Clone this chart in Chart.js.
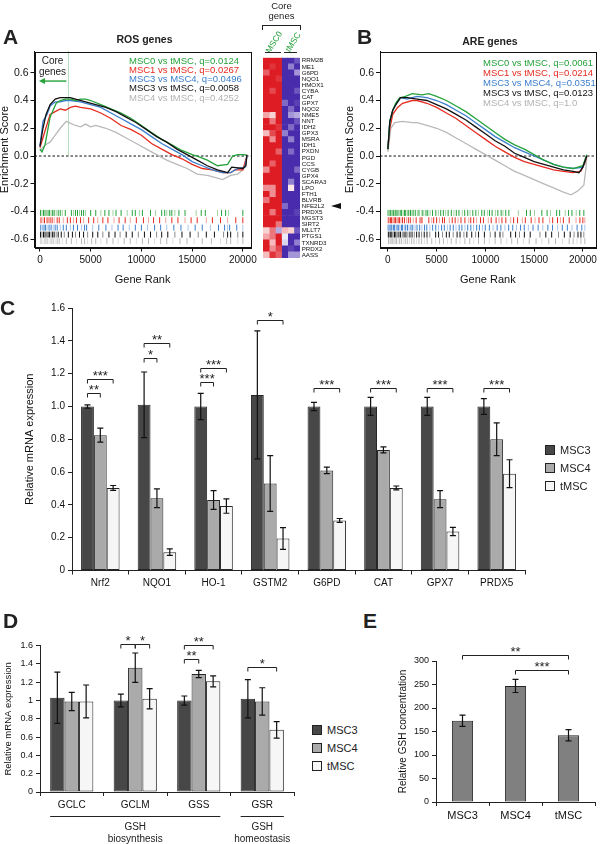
<!DOCTYPE html>
<html>
<head>
<meta charset="utf-8">
<script src="https://cdn.jsdelivr.net/npm/chart.js@4.4.1/dist/chart.umd.min.js"></script>
<style>
html, body { margin: 0; padding: 0; background: #fff; }
#fig { position: relative; width: 600px; height: 844px; overflow: hidden; font-family: 'Liberation Sans', Arial, sans-serif; color: #222; }
#fig canvas { position: absolute; }
.t { position: absolute; white-space: nowrap; line-height: 1; }
.sw { position: absolute; width: 8px; height: 8px; border: 1px solid #222; }
.ln { position: absolute; background: #222; }
</style>
</head>
<body>
<div id="fig">
  <canvas id="chartA" width="260" height="300" style="left:0;top:0"></canvas>
  <canvas id="heat" width="90" height="215" style="left:258px;top:50px"></canvas>
  <canvas id="chartB" width="260" height="300" style="left:340px;top:0"></canvas>
  <canvas id="chartC" width="600" height="300" style="left:0;top:295px"></canvas>
  <canvas id="chartD" width="300" height="214" style="left:0;top:630px"></canvas>
  <canvas id="chartE" width="205" height="204" style="left:395px;top:640px"></canvas>
</div>
<script>
// ---- panel A: ROS genes, running enrichment score [rank, ES]
const rosMSC0 = [[0,0.05],[200,0.03],[500,0.08],[800,0.2],[1000,0.28],[1300,0.33],[1600,0.38],[2000,0.4],[2500,0.41],[3000,0.41],[3500,0.4],[4000,0.41],[4500,0.41],[5000,0.4],[6000,0.37],[7000,0.34],[8000,0.31],[9000,0.27],[10000,0.22],[11000,0.17],[12000,0.12],[13000,0.08],[14000,0.04],[15000,0.01],[15500,0.0],[16500,-0.03],[17500,-0.07],[18500,-0.06],[19000,0.0],[19500,0.01],[20200,0.01],[20400,0.0]];
const rosMSC1 = [[0,0.06],[500,0.18],[1000,0.3],[1500,0.32],[2000,0.34],[2500,0.33],[3000,0.35],[3500,0.36],[4000,0.35],[5000,0.34],[6000,0.31],[7000,0.27],[8000,0.22],[9000,0.19],[10000,0.15],[11000,0.09],[12000,0.05],[13000,0.01],[14000,-0.02],[15000,-0.06],[16000,-0.09],[17000,-0.1],[18000,-0.12],[18800,-0.12],[19200,-0.1],[20000,-0.1],[20400,0.0]];
const rosMSC3v4 = [[0,0.07],[300,0.25],[700,0.3],[1000,0.36],[1500,0.39],[2000,0.39],[2500,0.4],[3000,0.4],[4000,0.39],[5000,0.37],[6000,0.35],[7000,0.31],[8000,0.27],[9000,0.23],[10000,0.19],[11000,0.14],[12000,0.09],[13000,0.05],[14000,0.01],[15000,-0.04],[16000,-0.07],[17000,-0.1],[18000,-0.12],[18800,-0.12],[19500,-0.09],[20200,-0.08],[20400,0.0]];
const rosMSC3vT = [[0,0.07],[300,0.2],[600,0.3],[1000,0.37],[1500,0.41],[2000,0.42],[3000,0.42],[3500,0.41],[4500,0.39],[5500,0.37],[6500,0.35],[7500,0.32],[8500,0.28],[9500,0.24],[10500,0.19],[11500,0.14],[12500,0.1],[13500,0.05],[14500,0.01],[15500,-0.03],[16500,-0.07],[17500,-0.1],[18500,-0.12],[18900,-0.08],[20000,-0.09],[20300,-0.07],[20400,0.01]];
const rosMSC4vT = [[0,0.04],[500,0.08],[1000,0.1],[1500,0.15],[2000,0.2],[2600,0.25],[3500,0.22],[4000,0.21],[4500,0.23],[5000,0.21],[5500,0.22],[6500,0.2],[7500,0.17],[8500,0.13],[9500,0.09],[10500,0.05],[11500,0.01],[12500,-0.03],[13500,-0.06],[14500,-0.09],[15500,-0.13],[16500,-0.14],[17500,-0.16],[18000,-0.17],[18800,-0.14],[19500,-0.13],[20000,-0.1],[20300,-0.07],[20400,0.0]];

// gene-set hits (rank positions) for each comparison
const rosHitsMSC0 = [50,200,350,500,650,800,950,1100,1250,1400,1600,1800,2000,2200,2500,3100,3300,3500,3700,3900,4100,4300,4500,5000,5500,6000,6400,6800,7200,7500,8000,8600,9100,9400,9800,10100,10900,11400,12000,12300,12500,12800,13000,13300,13700,14300,15400,15900,16300,17500,17900,18300,18600,20000];
const rosHitsMSC1 = [100,300,450,700,850,1000,1200,1400,1700,1900,2300,2700,3000,3300,3600,4000,4300,4800,5300,5700,6200,6700,7300,7800,8400,8900,9500,10200,10700,11200,11800,12400,13000,13600,14300,14900,15500,16400,17000,17800,18500,19300,20000];
const rosHitsMSC3v4 = [80,250,400,550,700,900,1100,1300,1500,1700,2000,2300,2600,3000,3300,3700,4100,4400,4600,5200,5800,6500,7100,7700,8200,8800,9400,10000,10600,11300,11900,12500,13200,13900,14600,15300,16000,16800,17600,18200,18500,18700,19400,20000];
const rosHitsMSC3vT = [60,200,350,500,650,800,950,1100,1250,1400,1600,1800,2100,2400,2800,3200,3500,3900,4300,4700,5200,5700,6200,6800,7400,7900,8500,9100,9700,10300,10900,11500,12000,12600,13300,14000,14800,15600,16400,17200,18100,18500,18800,19500,20000];
const rosHitsMSC4vT = [100,300,500,700,900,1100,1300,1500,1700,1900,2200,2600,3100,3600,4100,4400,4700,5100,5500,6000,6600,7200,7700,8300,8900,9500,10100,10700,11300,11900,12500,13100,13800,14500,15200,16000,16900,17800,18400,18800,19500,20000];
const rosLegend = ['MSC0 vs tMSC, q=0.0124', 'MSC1 vs tMSC, q=0.0267', 'MSC3 vs MSC4, q=0.0496', 'MSC3 vs tMSC, q=0.0058', 'MSC4 vs tMSC, q=0.4252'];
const rosCoreRank = 2800;

// ---- panel A heatmap: core genes, 3 MSC0 and 3 tMSC samples (scaled expression)
const coreGenes = ['RRM2B','ME1','G6PD','NQO1','HMOX1','CYBA','CAT','GPX7','NQO2','NME5','NNT','IDH2','GPX3','MSRA','IDH1','PXDN','PGD','CCS','CYGB','GPX4','SCARA3','LPO','FTH1','BLVRB','NFE2L2','PRDX5','MGST3','SIRT2','MLLT7','PTGS1','TXNRD3','PRDX2','AASS'];
const heatMSC0a = [1,1,0.7,1,1,1,1,1,1,0.4,1,1,0.3,1,1,1,1,1,0.5,1,1,0.5,1,0.6,1,1,1,1,0.2,0.4,1,1,0.3];
const heatMSC0b = [1,0.9,1,1,1,0.8,1,1,1,0.2,0.6,1,0.8,0.5,1,1,1,0.7,1,1,1,0.5,0.5,1,1,0.6,1,1,0.6,0.6,0.3,0.5,0.9];
const heatMSC0c = [1,1,1,0.9,1,1,1,1,1,1,1,0.9,1,1,1,0.7,1,1,1,1,1,1,1,1,1,1,1,0.6,-0.4,1,1,0.8,0.7];
const heatTMSCa = [-1,-1,-1,-1,-1,-1,-1,-0.7,-1,-1,-1,-1,-0.6,-1,-1,-1,-1,-1,-1,-1,-1,-1,-1,-1,-0.7,-1,-1,-1,0.3,-0.1,-0.2,-1,-1];
const heatTMSCb = [-1,-0.6,-1,-1,-1,-1,-1,-1,-0.7,-0.5,-1,-0.7,-1,-0.6,-1,-0.7,-1,-1,-1,-1,-0.6,0.1,-1,-1,-1,-1,-1,-1,0.2,-1,-1,-0.9,-0.5];
const heatTMSCc = [-0.8,-1,-0.5,-1,-1,-0.8,-1,-0.9,-1,-0.4,-0.8,-1,-1,-1,-1,-1,-1,-1,-0.7,-1,-1,-1,-1,-1,-1,-0.9,-1,-1,-0.8,-1,-0.6,-1,-0.5];
const markedGene = 'NFE2L2';

// ---- panel B: ARE genes
const areMSC0 = [[0,0.05],[200,0.25],[500,0.33],[800,0.38],[1200,0.42],[1800,0.43],[2500,0.45],[3500,0.44],[4200,0.45],[5000,0.43],[6000,0.4],[7000,0.36],[8000,0.32],[9000,0.27],[10000,0.22],[11000,0.17],[12000,0.12],[13000,0.08],[14000,0.05],[15000,0.01],[16000,-0.03],[17000,-0.06],[18000,-0.08],[19000,-0.09],[20000,-0.07],[20400,0.01]];
const areMSC1 = [[0,0.05],[200,0.2],[500,0.3],[1000,0.35],[1500,0.38],[2500,0.4],[3000,0.4],[4000,0.38],[5000,0.35],[6000,0.31],[7000,0.27],[8000,0.22],[9000,0.17],[10000,0.12],[11000,0.07],[12000,0.03],[13000,-0.01],[14000,-0.04],[15000,-0.06],[16000,-0.08],[17000,-0.1],[18000,-0.11],[19000,-0.12],[19800,-0.11],[20200,-0.05],[20400,0.0]];
const areMSC3v4 = [[0,0.05],[200,0.25],[500,0.33],[900,0.38],[1300,0.42],[2000,0.41],[2500,0.42],[3000,0.43],[4000,0.42],[5000,0.4],[6000,0.37],[7000,0.33],[8000,0.29],[9000,0.24],[10000,0.19],[11000,0.14],[12000,0.1],[13000,0.06],[14000,0.03],[15000,0.0],[16000,-0.03],[17000,-0.06],[18000,-0.08],[19000,-0.09],[20000,-0.08],[20400,0.0]];
const areMSC3vT = [[0,0.05],[200,0.25],[500,0.33],[900,0.38],[1300,0.42],[2000,0.42],[3000,0.41],[4000,0.4],[5000,0.37],[6000,0.34],[7000,0.3],[8000,0.26],[9000,0.21],[10000,0.16],[11000,0.11],[12000,0.07],[13000,0.02],[14000,-0.01],[15000,-0.04],[16000,-0.06],[17000,-0.08],[18000,-0.1],[19000,-0.11],[19600,-0.12],[20000,-0.08],[20400,0.0]];
const areMSC4vT = [[0,0.03],[300,0.2],[700,0.24],[1500,0.25],[2500,0.24],[3000,0.24],[4000,0.22],[5000,0.2],[6000,0.17],[7000,0.13],[8000,0.09],[9000,0.05],[10000,0.01],[11000,-0.03],[12000,-0.07],[13000,-0.11],[14000,-0.14],[15000,-0.17],[16000,-0.2],[17000,-0.23],[18000,-0.26],[18800,-0.28],[19500,-0.25],[20100,-0.21],[20300,-0.1],[20400,0.0]];

const areHitsMSC0 = [20,120,230,310,420,540,610,730,820,950,1090,1260,1390,1560,1700,1830,2010,2140,2320,2460,2590,2810,3020,3190,3520,3680,3910,4090,4330,4580,4920,5180,5420,5690,5930,6180,6510,6770,7020,7290,7630,7880,8190,8430,8710,9020,9280,9630,9890,10230,10420,10690,11030,11280,11620,11810,12090,12410,13380,14220,14610,15040,15790,16330,16680,17310,17620,18190,18530,18880,19320,19680,20100];
const areHitsMSC1 = [40,150,260,380,500,640,780,900,1050,1200,1350,1500,1700,1900,2100,2300,2600,2900,3300,3400,3500,4200,4500,4700,5000,5300,5600,5800,6300,6600,6900,7200,7500,7900,8300,8500,8800,9100,9500,9800,10300,10600,11100,11400,11700,12100,12600,12900,13300,13800,14100,14700,15100,15500,15900,16600,16900,17400,17700,18000,18600,19300,19700,20000,20200];
const areHitsMSC3v4 = [30,140,230,360,450,590,690,840,950,1110,1230,1390,1510,1690,1830,2010,2170,2370,2550,2790,2990,3260,3490,3760,3990,4310,4590,4910,5190,5510,5790,6110,6390,6710,6990,7310,7590,7910,8190,8510,8790,9110,9390,9710,9990,10410,10790,11210,11590,12010,12390,12810,13190,13610,13990,14410,14890,15410,15890,16410,16890,17410,17890,18410,18890,19410,19890,20200];
const areHitsMSC3vT = [50,170,290,410,540,680,820,970,1130,1300,1480,1660,1850,2050,2260,2480,2710,2950,3200,3460,3730,4010,4300,4900,5200,5600,6000,6300,6700,7100,7400,7800,8100,8600,9000,9300,9900,10500,11000,11500,11800,12600,13100,13500,14000,14600,15600,16200,16800,17500,18100,18700,19100,19500,19800,20100];
const areHitsMSC4vT = [60,190,320,450,590,730,880,1040,1210,1390,1580,1780,1990,2210,2440,2680,2930,3190,3460,3740,4030,4500,4900,5300,5700,6100,6500,7000,7400,7900,8400,8800,9300,9900,10400,11000,11600,12200,12700,13300,13900,14500,15200,15800,16500,17200,17900,18600,19000,19400,19800,20200];
const areLegend = ['MSC0 vs tMSC, q=0.0061', 'MSC1 vs tMSC, q=0.0214', 'MSC3 vs MSC4, q=0.0351', 'MSC3 vs tMSC, q=0.0123', 'MSC4 vs tMSC, q=1.0'];

const rankTicks = [0, 5000, 10000, 15000, 20000];
const esTicks = [-0.6, -0.4, -0.2, 0, 0.2, 0.4, 0.6];

// ---- panel C: relative mRNA expression
const cGenes = ['Nrf2', 'NQO1', 'HO-1', 'GSTM2', 'G6PD', 'CAT', 'GPX7', 'PRDX5'];
const cMSC3 = [1.00, 1.01, 1.00, 1.07, 1.00, 1.00, 1.00, 1.00];
const cMSC3Err = [0.01, 0.20, 0.08, 0.39, 0.025, 0.055, 0.055, 0.048];
const cMSC4 = [0.825, 0.44, 0.43, 0.53, 0.61, 0.735, 0.435, 0.80];
const cMSC4Err = [0.043, 0.057, 0.057, 0.17, 0.02, 0.018, 0.052, 0.10];
const cTMSC = [0.503, 0.112, 0.393, 0.195, 0.305, 0.503, 0.238, 0.59];
const cTMSCErr = [0.015, 0.02, 0.044, 0.066, 0.012, 0.012, 0.025, 0.085];
// significance brackets: category, first bar, second bar, height, stars
const cSigCat = [0, 0, 1, 1, 2, 2, 3, 4, 5, 6, 7];
const cSigFrom = [0, 0, 0, 0, 0, 0, 0, 0, 0, 0, 0];
const cSigTo = [1, 2, 1, 2, 1, 2, 2, 2, 2, 2, 2];
const cSigLevel = [1.08, 1.168, 1.298, 1.386, 1.146, 1.233, 1.525, 1.11, 1.11, 1.11, 1.11];
const cSigText = ['**', '***', '*', '**', '***', '***', '*', '***', '***', '***', '***'];

// ---- panel D
const dGenes = ['GCLC', 'GCLM', 'GSS', 'GSR'];
const dMSC3 = [1.03, 1.00, 1.00, 1.02];
const dMSC3Err = [0.28, 0.07, 0.05, 0.21];
const dMSC4 = [0.99, 1.36, 1.29, 0.99];
const dMSC4Err = [0.10, 0.16, 0.04, 0.15];
const dTMSC = [0.99, 1.02, 1.21, 0.68];
const dTMSCErr = [0.18, 0.11, 0.06, 0.09];
const dSigCat = [1, 1, 2, 2, 3];
const dSigFrom = [0, 1, 0, 0, 0];
const dSigTo = [1, 2, 1, 2, 2];
const dSigLevel = [1.62, 1.62, 1.45, 1.61, 1.37];
const dSigText = ['*', '*', '**', '**', '*'];
const dGroupFirst = [0, 3];
const dGroupLast = [2, 3];
const dGroupName = ['GSH', 'GSH'];
const dGroupRole = ['biosynthesis', 'homeostasis'];

// ---- panel E
const eCells = ['MSC3', 'MSC4', 'tMSC'];
const eGSH = [173, 247, 142];
const eGSHErr = [12, 14, 12];
const eSigFrom = [0, 1];
const eSigTo = [2, 2];
const eSigLevel = [313, 281];
const eSigText = ['**', '***'];

const seriesColors = ['#25a23a', '#e52b20', '#3b7fcd', '#111111', '#b9b9b9'];
const rugLight = ['#9ed39f', '#f3a39c', '#a8c6eb', '#8c8c8c', '#dedede'];
const rugRowY = [-0.41, -0.463, -0.516, -0.566, -0.613];
const drawOrder = [2, 4, 3, 1, 5];
const barColors = ['#474747', '#aaaaaa', '#f6f6f6'];
const FONT = "'Liberation Sans', Arial, sans-serif";

let fig;

const addText = (txt, x, y, opts = {}) => {
    const el = document.createElement('div');
    el.className = 't';
    el.textContent = txt;
    el.style.left = x + 'px';
    el.style.top = y + 'px';
    el.style.fontSize = (opts.size || 10) + 'px';
    if (opts.bold) el.style.fontWeight = 'bold';
    if (opts.color) el.style.color = opts.color;
    const tx = opts.center ? '-50%' : '0';
    el.style.transform = `translate(${tx}, -50%)` + (opts.rotate ? ` rotate(${opts.rotate}deg)` : '');
    fig.appendChild(el);
}

const addBox = (cls, x, y, w, h, css = {}) => {
    const el = document.createElement('div');
    el.className = cls;
    Object.assign(el.style, { left: x + 'px', top: y + 'px', width: w + 'px', height: h + 'px' }, css);
    fig.appendChild(el);
}

const heatColor = v => {
    const t = Math.min(Math.abs(v), 1);
    const end = v >= 0 ? [222, 28, 36] : [72, 44, 172];
    const c = end.map(e => Math.round(255 + (e - 255) * t));
    return `rgb(${c[0]},${c[1]},${c[2]})`;
}

// frame, dotted zero line, core-gene marker
const gseaDecor = coreRank => ({
    id: 'gseaDecor',
    beforeDatasetsDraw(chart) {
        const { ctx, chartArea: a, scales: { x, y } } = chart;
        const y0 = y.getPixelForValue(0);
        ctx.save();
        ctx.strokeStyle = '#111';
        ctx.lineWidth = 1;
        ctx.setLineDash([2.5, 2]);
        ctx.beginPath();
        ctx.moveTo(a.left, y0);
        ctx.lineTo(a.right, y0);
        ctx.stroke();
        if (coreRank) {
            const xc = x.getPixelForValue(coreRank);
            ctx.strokeStyle = '#3aa84a';
            ctx.lineWidth = 0.8;
            ctx.setLineDash([1, 1]);
            ctx.beginPath();
            ctx.moveTo(xc, a.top);
            ctx.lineTo(xc, y0);
            ctx.stroke();
        }
        ctx.restore();
    },
    afterDraw(chart) {
        const { ctx, chartArea: a, scales: { x, y } } = chart;
        ctx.save();
        ctx.strokeStyle = '#111';
        ctx.lineWidth = 1;
        ctx.strokeRect(Math.round(a.left) + 0.5, Math.round(a.top) + 0.5, Math.round(a.right - a.left), Math.round(a.bottom - a.top));
        if (coreRank) {
            const ya = y.getPixelForValue(0.54);
            const xl = x.getPixelForValue(0) - 1;
            const xr = x.getPixelForValue(coreRank) - 2;
            ctx.strokeStyle = ctx.fillStyle = '#25a23a';
            ctx.lineWidth = 1.4;
            ctx.beginPath();
            ctx.moveTo(xl + 4, ya);
            ctx.lineTo(xr, ya);
            ctx.stroke();
            ctx.beginPath();
            ctx.moveTo(xl, ya);
            ctx.lineTo(xl + 6, ya - 3);
            ctx.lineTo(xl + 6, ya + 3);
            ctx.closePath();
            ctx.fill();
        }
        ctx.restore();
    }
});

const gseaConfig = (curves, hits, xMin, xMax, yTitlePad, coreRank) => {
    const lines = curves.map((pts, k) => ({
        data: pts.map(([x, y]) => ({ x, y })),
        showLine: true,
        borderColor: seriesColors[k],
        borderWidth: 1.3,
        pointRadius: 0,
        tension: 0,
        order: drawOrder[k]
    }));
    const rugs = hits.map((ranks, k) => ({
        data: ranks.map(x => ({ x, y: rugRowY[k] })),
        showLine: false,
        pointStyle: 'line',
        pointRotation: 90,
        pointRadius: 3,
        pointHoverRadius: 3,
        pointBorderWidth: 1,
        pointBorderColor: c => (c.dataIndex % 3 === 1 ? rugLight[k] : seriesColors[k]),
        order: 0
    }));
    const axisGrid = { drawOnChartArea: false, drawTicks: true, tickLength: 4, color: '#111' };
    return {
        type: 'scatter',
        data: { datasets: [...rugs, ...lines] },
        options: {
            responsive: false,
            animation: false,
            devicePixelRatio: 1,
            layout: { padding: { top: 51.5, right: 260 - 253 - (xMin < -600 ? 6 : 0), bottom: 0, left: 0 } },
            plugins: { legend: { display: false }, tooltip: { enabled: false } },
            scales: {
                x: {
                    min: xMin, max: xMax,
                    grid: axisGrid,
                    border: { color: '#111' },
                    afterBuildTicks: s => { s.ticks = rankTicks.map(value => ({ value })); },
                    ticks: { callback: v => String(v), font: { size: 10 }, color: '#111', padding: 3, maxRotation: 0, autoSkip: false },
                    title: { display: true, text: 'Gene Rank', font: { size: 11 }, color: '#111', padding: { top: 0, bottom: 13.4 } },
                    afterFit: s => { s.height = 52.5; }
                },
                y: {
                    min: -0.659, max: 0.753,
                    grid: axisGrid,
                    border: { color: '#111' },
                    afterBuildTicks: s => { s.ticks = esTicks.map(value => ({ value })); },
                    ticks: { callback: v => v.toFixed(1), font: { size: 10.5 }, color: '#111', padding: 2 },
                    title: { display: true, text: 'Enrichment Score', font: { size: 11 }, color: '#111', padding: { top: yTitlePad, bottom: 0 } },
                    afterFit: s => { s.width = xMin < -600 ? 40 : 34.5; }
                }
            }
        },
        plugins: [gseaDecor(coreRank)]
    };
}

const errPlugin = errs => ({
    id: 'errBars',
    afterDatasetsDraw(chart) {
        const { ctx, scales: { y } } = chart;
        ctx.save();
        ctx.strokeStyle = '#111';
        ctx.lineWidth = 1.2;
        chart.data.datasets.forEach((ds, d) => {
            chart.getDatasetMeta(d).data.forEach((bar, i) => {
                const v = ds.data[i], e = errs[d][i];
                const top = y.getPixelForValue(v + e), bot = y.getPixelForValue(v - e);
                ctx.beginPath();
                ctx.moveTo(bar.x, top); ctx.lineTo(bar.x, bot);
                ctx.moveTo(bar.x - 3, top); ctx.lineTo(bar.x + 3, top);
                ctx.moveTo(bar.x - 3, bot); ctx.lineTo(bar.x + 3, bot);
                ctx.stroke();
            });
        });
        ctx.restore();
    }
});

// brackets with stars; barX(i, k) gives the x of a bar
const sigPlugin = (n, barX, fromArr, toArr, levels, texts) => ({
    id: 'sigBrackets',
    afterDraw(chart) {
        const { ctx, scales: { y } } = chart;
        ctx.save();
        ctx.strokeStyle = ctx.fillStyle = '#222';
        ctx.lineWidth = 1;
        ctx.font = `13px ${FONT}`;
        ctx.textAlign = 'center';
        ctx.textBaseline = 'alphabetic';
        for (let i = 0; i < n; i++) {
            const xa = barX(chart, i, fromArr[i]), xb = barX(chart, i, toArr[i]);
            const yy = Math.round(y.getPixelForValue(levels[i])) + 0.5;
            ctx.beginPath();
            ctx.moveTo(xa, yy + 4); ctx.lineTo(xa, yy); ctx.lineTo(xb, yy); ctx.lineTo(xb, yy + 4);
            ctx.stroke();
            ctx.fillText(texts[i], (xa + xb) / 2, yy + 0.5);
        }
        ctx.restore();
    }
});

const groupPlugin = {
    id: 'groups',
    afterDraw(chart) {
        const { ctx } = chart;
        const meta0 = chart.getDatasetMeta(0).data, meta2 = chart.getDatasetMeta(2).data;
        ctx.save();
        ctx.strokeStyle = ctx.fillStyle = '#222';
        ctx.lineWidth = 1;
        ctx.font = `10px ${FONT}`;
        ctx.textAlign = 'center';
        ctx.textBaseline = 'middle';
        dGroupFirst.forEach((g, i) => {
            const x1 = meta0[g].x - meta0[g].width / 2;
            const x2 = meta2[dGroupLast[i]].x + meta2[dGroupLast[i]].width / 2;
            ctx.beginPath();
            ctx.moveTo(x1, 816.5 - 630); ctx.lineTo(x2, 816.5 - 630);
            ctx.stroke();
            ctx.fillText(dGroupName[i], (x1 + x2) / 2, 827 - 630);
            ctx.fillText(dGroupRole[i], (x1 + x2) / 2, 839 - 630);
        });
        ctx.restore();
    }
};

const barConfig = o => ({
    type: 'bar',
    data: {
        labels: o.labels,
        datasets: o.series.map((vals, k) => ({
            data: vals,
            backgroundColor: o.colors[k],
            borderColor: '#262626',
            borderWidth: 1,
            borderSkipped: false,
            categoryPercentage: o.catPct,
            barPercentage: o.barPct
        }))
    },
    options: {
        responsive: false,
        animation: false,
        devicePixelRatio: 1,
        layout: { padding: o.padding },
        plugins: { legend: { display: false }, tooltip: { enabled: false } },
        scales: {
            x: {
                grid: { display: true, drawOnChartArea: false, drawTicks: true, tickLength: 4, color: '#222', offset: true },
                border: { color: '#222' },
                ticks: { font: { size: o.xFont }, color: '#111', padding: 3, autoSkip: false, maxRotation: 0 },
                afterFit: s => { s.height = o.xH; }
            },
            y: {
                min: 0, max: o.yMax,
                grid: { drawOnChartArea: false, drawTicks: true, tickLength: 4, color: '#222' },
                border: { color: '#222' },
                ticks: { stepSize: o.yStep, callback: o.yFmt, font: { size: o.yFont }, color: '#111', padding: 3 },
                title: { display: true, text: o.yTitle, font: { size: o.titleFont }, color: '#111', padding: { top: o.titlePad, bottom: 0 } },
                afterFit: s => { s.width = o.yW; }
            }
        }
    },
    plugins: o.plugins
});

const groupedX = cats => (chart, i, k) => chart.getDatasetMeta(k).data[cats[i]].x;
const singleX = (chart, i, k) => chart.getDatasetMeta(0).data[k].x;

const buildTexts = () => {
    addText('A', 3, 36, { size: 21, bold: true });
    addText('ROS genes', 144.5, 38.5, { size: 10.5, bold: true, center: true });
    addText('Core', 52.5, 60.5, { size: 10, center: true });
    addText('genes', 52.5, 72, { size: 10, center: true });
    rosLegend.forEach((t, k) => addText(t, 129, 60.5 + k * 9.3, { size: 9.5, color: seriesColors[k] === '#b9b9b9' ? '#b3b3b3' : seriesColors[k] }));

    addText('B', 357, 36, { size: 21, bold: true });
    addText('ARE genes', 490, 40.5, { size: 10.5, bold: true, center: true });
    areLegend.forEach((t, k) => addText(t, 483, 62.5 + k * 10.1, { size: 9.5, color: seriesColors[k] === '#b9b9b9' ? '#b3b3b3' : seriesColors[k] }));

    // heatmap header
    addText('Core', 281.5, 6, { size: 9.5, center: true });
    addText('genes', 281.5, 16, { size: 9.5, center: true });
    addBox('ln', 262, 25, 39, 1);
    addBox('ln', 262, 25, 1, 5);
    addBox('ln', 300, 25, 1, 5);
    addText('MSC0', 273.5, 41.5, { size: 8.5, center: true, rotate: -58, color: '#25a23a' });
    addText('tMSC', 292.5, 41.5, { size: 8.5, center: true, rotate: -58, color: '#25a23a' });
    addBox('ln', 265, 52, 16, 1);
    addBox('ln', 284, 52, 13, 1);
    const row = coreGenes.indexOf(markedGene);
    addBox('', 331, 57.7 + (row + 0.5) * 6.06 - 3.5, 0, 0, { position: 'absolute', borderTop: '3.5px solid transparent', borderBottom: '3.5px solid transparent', borderRight: '10px solid #111' });

    addText('C', 0, 307, { size: 21, bold: true });
    ['MSC3', 'MSC4', 'tMSC'].forEach((t, k) => {
        addBox('sw', 545, 445 + k * 18, 8, 8, { background: barColors[k] });
        addText(t, 560, 450 + k * 18, { size: 11 });
    });

    addText('D', 3, 620, { size: 21, bold: true });
    ['MSC3', 'MSC4', 'tMSC'].forEach((t, k) => {
        addBox('sw', 312, 725 + k * 18, 8, 8, { background: barColors[k] });
        addText(t, 327, 730 + k * 18, { size: 11 });
    });

    addText('E', 363, 620, { size: 21, bold: true });
}

const main = () => {
    fig = document.querySelector('#fig');
    Chart.defaults.font.family = FONT;
    Chart.defaults.color = '#111';

    new Chart(document.querySelector('#chartA'), gseaConfig(
        [rosMSC0, rosMSC1, rosMSC3v4, rosMSC3vT, rosMSC4vT],
        [rosHitsMSC0, rosHitsMSC1, rosHitsMSC3v4, rosHitsMSC3vT, rosHitsMSC4vT],
        -537, 20780, -1.6, rosCoreRank));

    new Chart(document.querySelector('#chartB'), gseaConfig(
        [areMSC0, areMSC1, areMSC3v4, areMSC3vT, areMSC4vT],
        [areHitsMSC0, areHitsMSC1, areHitsMSC3v4, areHitsMSC3vT, areHitsMSC4vT],
        -808, 21313, 3.4, null));

    const heatCols = [heatMSC0a, heatMSC0b, heatMSC0c, heatTMSCa, heatTMSCb, heatTMSCc];
    new Chart(document.querySelector('#heat'), {
        type: 'bar',
        data: {
            labels: coreGenes,
            datasets: heatCols.map((col, c) => ({
                data: col.map(() => [c, c + 1]),
                backgroundColor: col.map(heatColor),
                borderWidth: 0,
                barPercentage: 1,
                categoryPercentage: 1,
                grouped: false
            }))
        },
        options: {
            indexAxis: 'y',
            responsive: false,
            animation: false,
            devicePixelRatio: 1,
            layout: { padding: { left: 5, top: 7.7, bottom: 7, right: 0 } },
            plugins: { legend: { display: false }, tooltip: { enabled: false } },
            scales: {
                x: { display: false, min: 0, max: heatCols.length },
                y: {
                    position: 'right',
                    grid: { display: false, drawTicks: false },
                    border: { display: false },
                    ticks: { font: { size: 6.2 }, color: '#111', padding: 1.7, autoSkip: false },
                    afterFit: s => { s.width = 48; }
                }
            }
        }
    });

    new Chart(document.querySelector('#chartC'), barConfig({
        labels: cGenes,
        series: [cMSC3, cMSC4, cTMSC],
        colors: barColors,
        catPct: 0.68, barPct: 1,
        padding: { top: 13, right: 75, bottom: 0, left: 0 },
        xH: 24.5, xFont: 10,
        yMax: 1.6, yStep: 0.2, yFont: 10,
        yFmt: v => (v === 0 ? '0' : v.toFixed(1)),
        yTitle: 'Relative mRNA expression', titleFont: 11, titlePad: 23.4, yW: 72,
        plugins: [errPlugin([cMSC3Err, cMSC4Err, cTMSCErr]),
                  sigPlugin(cSigCat.length, groupedX(cSigCat), cSigFrom, cSigTo, cSigLevel, cSigText)]
    }));

    new Chart(document.querySelector('#chartD'), barConfig({
        labels: dGenes,
        series: [dMSC3, dMSC4, dTMSC],
        colors: barColors,
        catPct: 0.68, barPct: 1,
        padding: { top: 15.7, right: 6, bottom: 30, left: 0 },
        xH: 22, xFont: 10,
        yMax: 1.6, yStep: 0.2, yFont: 9,
        yFmt: v => String(Math.round(v * 10) / 10),
        yTitle: 'Relative mRNA expression', titleFont: 9.5, titlePad: 2.3, yW: 40,
        plugins: [errPlugin([dMSC3Err, dMSC4Err, dTMSCErr]),
                  sigPlugin(dSigCat.length, groupedX(dSigCat), dSigFrom, dSigTo, dSigLevel, dSigText),
                  groupPlugin]
    }));

    new Chart(document.querySelector('#chartE'), barConfig({
        labels: eCells,
        series: [eGSH],
        colors: ['#808080'],
        catPct: 1, barPct: 0.4,
        padding: { top: 21, right: 5, bottom: 20, left: 0 },
        xH: 22, xFont: 11,
        yMax: 300, yStep: 50, yFont: 9,
        yFmt: v => String(v),
        yTitle: 'Relative GSH concentration', titleFont: 10, titlePad: 2, yW: 41,
        plugins: [errPlugin([eGSHErr]),
                  sigPlugin(eSigFrom.length, singleX, eSigFrom, eSigTo, eSigLevel, eSigText)]
    }));

    buildTexts();
}

window.addEventListener('DOMContentLoaded', main);
</script>
</body>
</html>
